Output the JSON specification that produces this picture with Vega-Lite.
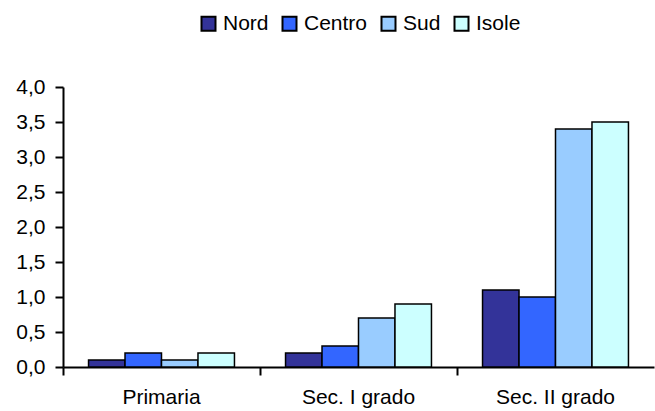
{
  "$schema": "https://vega.github.io/schema/vega-lite/v6.json",
  "width": 591,
  "height": 280,
  "autosize": {"type": "none"},
  "padding": {"left": 63, "top": 87, "right": 1, "bottom": 44},
  "background": "white",
  "data": {
    "values": [
      {"livello": "Primaria", "area": "Nord", "valore": 0.1},
      {"livello": "Primaria", "area": "Centro", "valore": 0.2},
      {"livello": "Primaria", "area": "Sud", "valore": 0.1},
      {"livello": "Primaria", "area": "Isole", "valore": 0.2},
      {"livello": "Sec. I grado", "area": "Nord", "valore": 0.2},
      {"livello": "Sec. I grado", "area": "Centro", "valore": 0.3},
      {"livello": "Sec. I grado", "area": "Sud", "valore": 0.7},
      {"livello": "Sec. I grado", "area": "Isole", "valore": 0.9},
      {"livello": "Sec. II grado", "area": "Nord", "valore": 1.1},
      {"livello": "Sec. II grado", "area": "Centro", "valore": 1.0},
      {"livello": "Sec. II grado", "area": "Sud", "valore": 3.4},
      {"livello": "Sec. II grado", "area": "Isole", "valore": 3.5}
    ]
  },
  "mark": {"type": "bar", "stroke": "black", "strokeWidth": 1.5},
  "encoding": {
    "x": {
      "field": "livello",
      "type": "nominal",
      "sort": ["Primaria", "Sec. I grado", "Sec. II grado"],
      "scale": {"paddingInner": 0, "paddingOuter": 0},
      "axis": {
        "title": null,
        "labelAngle": 0,
        "bandPosition": 0,
        "labelFont": "Liberation Sans",
        "labelFontSize": 21,
        "labelColor": "black",
        "labelPadding": 11,
        "labelBaseline": "top",
        "tickSize": 8,
        "tickColor": "black",
        "tickWidth": 2,
        "domainColor": "black",
        "domainWidth": 2
      }
    },
    "xOffset": {
      "field": "area",
      "type": "nominal",
      "sort": ["Nord", "Centro", "Sud", "Isole"],
      "scale": {"paddingInner": 0, "paddingOuter": 0.7}
    },
    "y": {
      "field": "valore",
      "type": "quantitative",
      "scale": {"domain": [0, 4], "nice": false},
      "axis": {
        "title": null,
        "values": [0, 0.5, 1, 1.5, 2, 2.5, 3, 3.5, 4],
        "format": ".1f",
        "grid": false,
        "labelFont": "Liberation Sans",
        "labelFontSize": 21,
        "labelColor": "black",
        "labelPadding": 10,
        "tickSize": 8,
        "tickColor": "black",
        "tickWidth": 2,
        "domainColor": "black",
        "domainWidth": 2
      }
    },
    "color": {
      "field": "area",
      "type": "nominal",
      "sort": ["Nord", "Centro", "Sud", "Isole"],
      "scale": {
        "domain": ["Nord", "Centro", "Sud", "Isole"],
        "range": ["#333399", "#3366FF", "#99CCFF", "#CCFFFF"]
      },
      "legend": {
        "title": null,
        "orient": "none",
        "direction": "horizontal",
        "legendX": 135,
        "legendY": -74,
        "symbolType": "square",
        "symbolSize": 196,
        "symbolStrokeColor": "black",
        "symbolStrokeWidth": 2,
        "labelFont": "Liberation Sans",
        "labelFontSize": 21,
        "labelColor": "black",
        "labelOffset": 4,
        "columnPadding": 9
      }
    }
  },
  "config": {
    "view": {"stroke": null},
    "locale": {
      "number": {"decimal": ",", "thousands": ".", "grouping": [3], "currency": ["", " €"]}
    }
  }
}
